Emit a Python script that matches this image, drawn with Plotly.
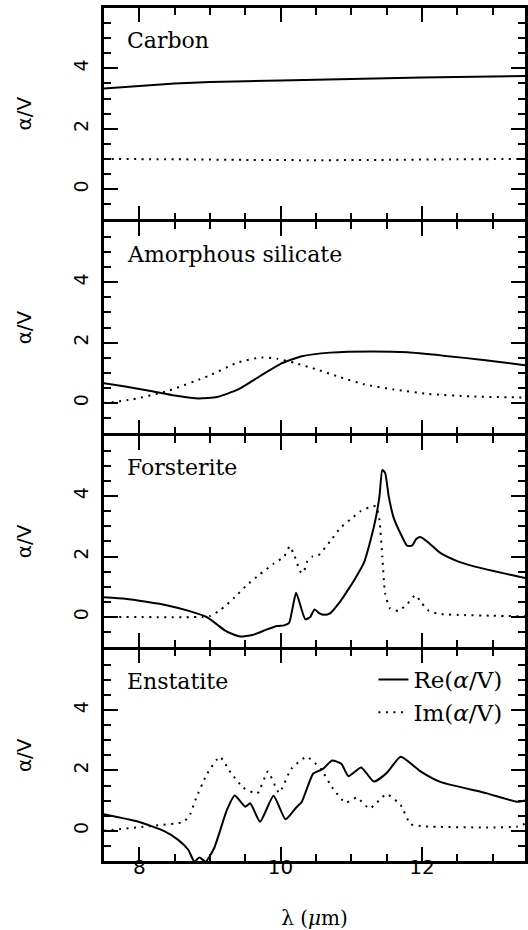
import plotly.graph_objects as go
from plotly.subplots import make_subplots

# ---------------- data ----------------
panel_names = ["Carbon", "Amorphous silicate", "Forsterite", "Enstatite"]

carbon_re_x = [7.5, 8.0, 8.5, 9.0, 10.0, 11.0, 12.0, 13.0, 13.5]
carbon_re_y = [3.33, 3.42, 3.50, 3.55, 3.60, 3.65, 3.70, 3.73, 3.75]
carbon_im_x = [7.5, 8.5, 9.5, 10.5, 11.5, 12.5, 13.5]
carbon_im_y = [1.0, 0.99, 0.97, 0.96, 0.97, 0.99, 1.0]

amsil_re_x = [7.5, 7.8, 8.2, 8.5, 8.84, 9.1, 9.4, 9.7, 10.0, 10.3, 10.7, 11.3, 11.8, 12.3, 12.9, 13.5]
amsil_re_y = [0.66, 0.55, 0.38, 0.25, 0.15, 0.2, 0.45, 0.88, 1.3, 1.55, 1.67, 1.71, 1.68, 1.57, 1.42, 1.24]
amsil_im_x = [7.5, 7.9, 8.4, 8.98, 9.4, 9.73, 9.95, 10.2, 10.5, 10.85, 11.18, 11.6, 12.1, 12.7, 13.5]
amsil_im_y = [0.0, 0.12, 0.40, 0.90, 1.35, 1.51, 1.47, 1.33, 1.12, 0.85, 0.62, 0.45, 0.30, 0.22, 0.18]

forst_re_x = [7.5, 7.8, 8.1, 8.4, 8.7, 8.95, 9.1, 9.2, 9.3, 9.43, 9.6, 9.8, 9.95, 10.05, 10.12,
              10.17, 10.22, 10.35, 10.42, 10.48, 10.55, 10.62, 10.7, 10.84, 10.95, 11.05, 11.18,
              11.28, 11.35, 11.4, 11.44, 11.48, 11.53, 11.6, 11.7, 11.79, 11.86, 11.92, 11.98,
              12.1, 12.26, 12.5, 12.7, 13.0, 13.3, 13.5]
forst_re_y = [0.65, 0.6, 0.5, 0.38, 0.2, 0.0, -0.25, -0.43, -0.55, -0.65, -0.6, -0.42, -0.3, -0.28,
              -0.2, 0.3, 0.8, -0.08, 0.0, 0.25, 0.12, 0.07, 0.12, 0.5, 0.88, 1.25, 1.8, 2.6, 3.3,
              4.0, 4.87, 4.77, 4.0, 3.29, 2.75, 2.36, 2.36, 2.58, 2.65, 2.45, 2.12, 1.85, 1.7, 1.53,
              1.37, 1.27]
forst_im_x = [7.5, 8.9, 9.0, 9.15, 9.35, 9.52, 9.7, 9.9, 10.05, 10.13, 10.2, 10.28, 10.32, 10.38,
              10.45, 10.53, 10.7, 10.85, 11.0, 11.13, 11.25, 11.35, 11.4, 11.44, 11.48, 11.55,
              11.67, 11.8, 11.91, 12.0, 12.1, 12.25, 12.6, 13.0, 13.5]
forst_im_y = [0.0, 0.0, 0.03, 0.23, 0.65, 1.05, 1.4, 1.76, 2.0, 2.34, 2.0, 1.5, 1.45, 1.85, 2.0,
              2.03, 2.5, 2.96, 3.25, 3.5, 3.62, 3.67, 3.2, 2.0, 0.78, 0.28, 0.2, 0.45, 0.72, 0.45,
              0.2, 0.1, 0.06, 0.04, 0.02]

enst_re_x = [7.5, 7.99, 8.36, 8.55, 8.69, 8.78, 8.85, 8.94, 9.06, 9.24, 9.35, 9.5, 9.57, 9.71,
             9.9, 10.07, 10.21, 10.3, 10.46, 10.6, 10.73, 10.86, 10.96, 11.14, 11.32, 11.5,
             11.7, 11.98, 12.26, 12.92, 13.36, 13.5]
enst_re_y = [0.55, 0.30, -0.02, -0.3, -0.62, -1.02, -0.88, -1.02, -0.57, 0.69, 1.17, 0.8, 0.91,
             0.3, 1.16, 0.38, 0.74, 0.96, 1.89, 2.05, 2.33, 2.22, 1.81, 2.1, 1.63, 1.91, 2.45,
             1.97, 1.62, 1.24, 0.96, 1.03]
enst_im_x = [7.5, 8.21, 8.63, 8.72, 8.79, 8.96, 9.14, 9.29, 9.47, 9.67, 9.82, 9.98, 10.15,
             10.37, 10.57, 10.74, 10.92, 11.08, 11.26, 11.5, 11.7, 11.84, 12.03, 12.92, 13.35, 13.5]
enst_im_y = [0.0, 0.17, 0.30, 0.55, 1.0, 1.89, 2.45, 1.94, 1.43, 1.24, 1.96, 1.26, 2.05, 2.45,
             2.05, 1.40, 0.93, 1.1, 0.74, 1.21, 0.85, 0.22, 0.15, 0.11, 0.14, 0.27]

series = [
    (carbon_re_x, carbon_re_y, carbon_im_x, carbon_im_y),
    (amsil_re_x, amsil_re_y, amsil_im_x, amsil_im_y),
    (forst_re_x, forst_re_y, forst_im_x, forst_im_y),
    (enst_re_x, enst_re_y, enst_im_x, enst_im_y),
]

x_range = [7.5, 13.46]
y_range = [-1, 6]
x_tickvals = [8, 10, 12]
y_tickvals = [0, 2, 4]

# ---------------- figure ----------------
W, H = 528, 930
M_L, M_R, M_T, M_B = 104, 0, 8, 69
LW = 2.5
plot_h = H - M_T - M_B

fig = make_subplots(rows=4, cols=1, shared_xaxes=True, vertical_spacing=LW / plot_h)

SERIF = "DejaVu Serif"
SANS = "DejaVu Sans"

for i, (rx, ry, ix, iy) in enumerate(series):
    row = i + 1
    last = row == 4
    fig.add_trace(go.Scatter(x=rx, y=ry, mode="lines", name="Re(<i>α</i>/V)",
                             line=dict(color="black", width=2, shape="spline", smoothing=0.5),
                             showlegend=last), row=row, col=1)
    fig.add_trace(go.Scatter(x=ix, y=iy, mode="lines", name="Im(<i>α</i>/V)",
                             line=dict(color="black", width=2, dash="2px,5.5px",
                                       shape="spline", smoothing=0.5),
                             showlegend=last), row=row, col=1)

axis_common = dict(showline=True, linecolor="black", linewidth=LW, mirror="allticks",
                   ticks="inside", ticklen=14, tickwidth=2, tickcolor="black",
                   showgrid=False, zeroline=False)

for row in range(1, 5):
    fig.update_xaxes(range=x_range, tickvals=x_tickvals, showticklabels=(row == 4),
                     minor=dict(dtick=0.5, tick0=7.5, ticks="inside", ticklen=7,
                                tickwidth=2, tickcolor="black", showgrid=False),
                     tickfont=dict(family=SANS, size=20, color="black"),
                     row=row, col=1, **axis_common)
    fig.update_yaxes(range=y_range, tickvals=y_tickvals, tickangle=-90,
                     minor=dict(dtick=0.5, tick0=0, ticks="inside", ticklen=7,
                                tickwidth=2, tickcolor="black", showgrid=False),
                     tickfont=dict(family=SANS, size=19, color="black"),
                     ticklabelstandoff=6,
                     title=dict(text="α/V", font=dict(family=SANS, size=20, color="black"),
                                standoff=33),
                     row=row, col=1, **axis_common)

fig.update_xaxes(ticklabelstandoff=-14,
                 title=dict(text="λ (<i>μ</i>m)", font=dict(family=SERIF, size=20, color="black"),
                            standoff=36), row=4, col=1)

for i, name in enumerate(panel_names):
    yref = "y domain" if i == 0 else f"y{i+1} domain"
    xref = "x domain" if i == 0 else f"x{i+1} domain"
    fig.add_annotation(text=name, xref=xref, yref=yref, x=0.05, y=0.848,
                       xanchor="left", yanchor="middle", showarrow=False,
                       font=dict(family=SERIF, size=22, color="black"))

fig.update_layout(
    width=W, height=H,
    margin=dict(l=M_L, r=M_R, t=M_T, b=M_B),
    paper_bgcolor="white", plot_bgcolor="white",
    legend=dict(x=0.64, y=0.238, xanchor="left", yanchor="top",
                bgcolor="rgba(0,0,0,0)", font=dict(family=SERIF, size=23, color="black"),
                tracegroupgap=0),
)

fig.write_html("out.html", config={"displayModeBar": False},
               post_script="document.body.style.margin='0px';document.body.style.overflow='hidden';")
